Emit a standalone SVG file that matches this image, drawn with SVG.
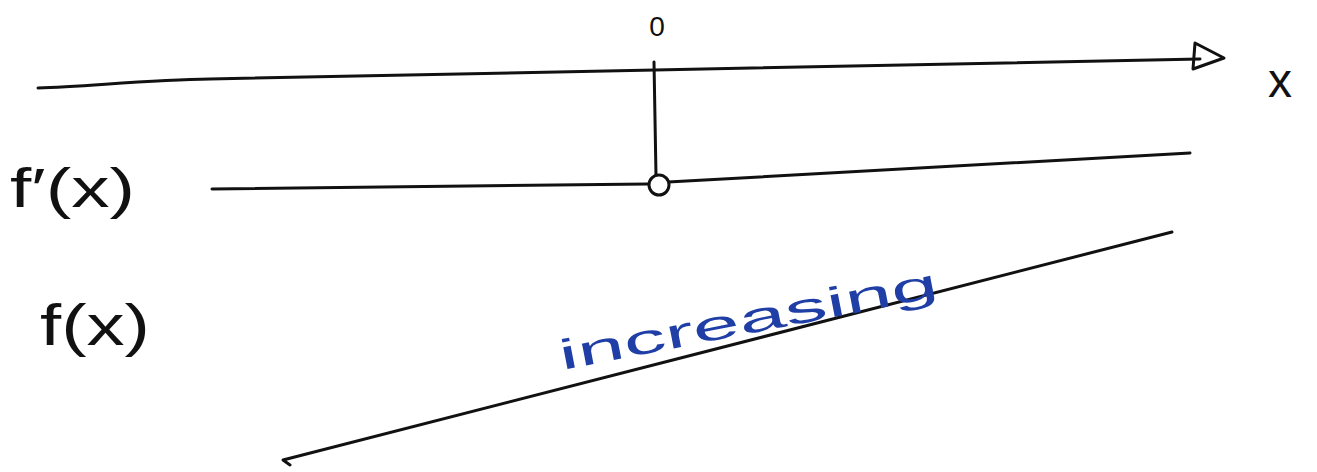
<svg xmlns="http://www.w3.org/2000/svg" width="1317" height="472" viewBox="0 0 1317 472">
<style>
.ln{fill:none;stroke:#111;stroke-width:3;stroke-linecap:round;stroke-linejoin:round}
.lbl{font-family:"Liberation Sans",sans-serif;fill:#111}
.blue{font-family:"Liberation Sans",sans-serif;fill:#1f3ea6}
</style>
<rect width="1317" height="472" fill="#fff"/>
<g id="axis">
<path class="ln" d="M38,88 C90,86 150,80 210,79 L655,70 L1200,59"/>
<path class="ln" d="M1195,43 L1224,58 L1193,69 Z"/>
<text class="lbl" x="1268" y="97" font-size="48">x</text>
</g>
<g id="zero">
<text class="lbl" x="657" y="36" font-size="28" text-anchor="middle">0</text>
</g>
<g id="connectors">
<path class="ln" d="M654,62 L656,176"/>
</g>
<g id="fprime">
<text class="lbl" x="10" y="207" font-size="56" textLength="125" lengthAdjust="spacingAndGlyphs">f′(x)</text>
<path class="ln" d="M212,189 L648,184" stroke-width="4"/>
<path class="ln" d="M668,182 L1190,153"/>
<circle cx="659" cy="185" r="10" fill="#fff" stroke="#111" stroke-width="3"/>
</g>
<g id="f">
<text class="lbl" x="40" y="345" font-size="58" textLength="110" lengthAdjust="spacingAndGlyphs">f(x)</text>
<path class="ln" d="M290,465 L283,460 L1172,232" stroke-width="2.5"/>
</g>
<g id="label">
<text class="blue" x="562" y="370" font-size="42" textLength="385" lengthAdjust="spacingAndGlyphs" transform="rotate(-11 562 370)">increasing</text>
</g>
</svg>
